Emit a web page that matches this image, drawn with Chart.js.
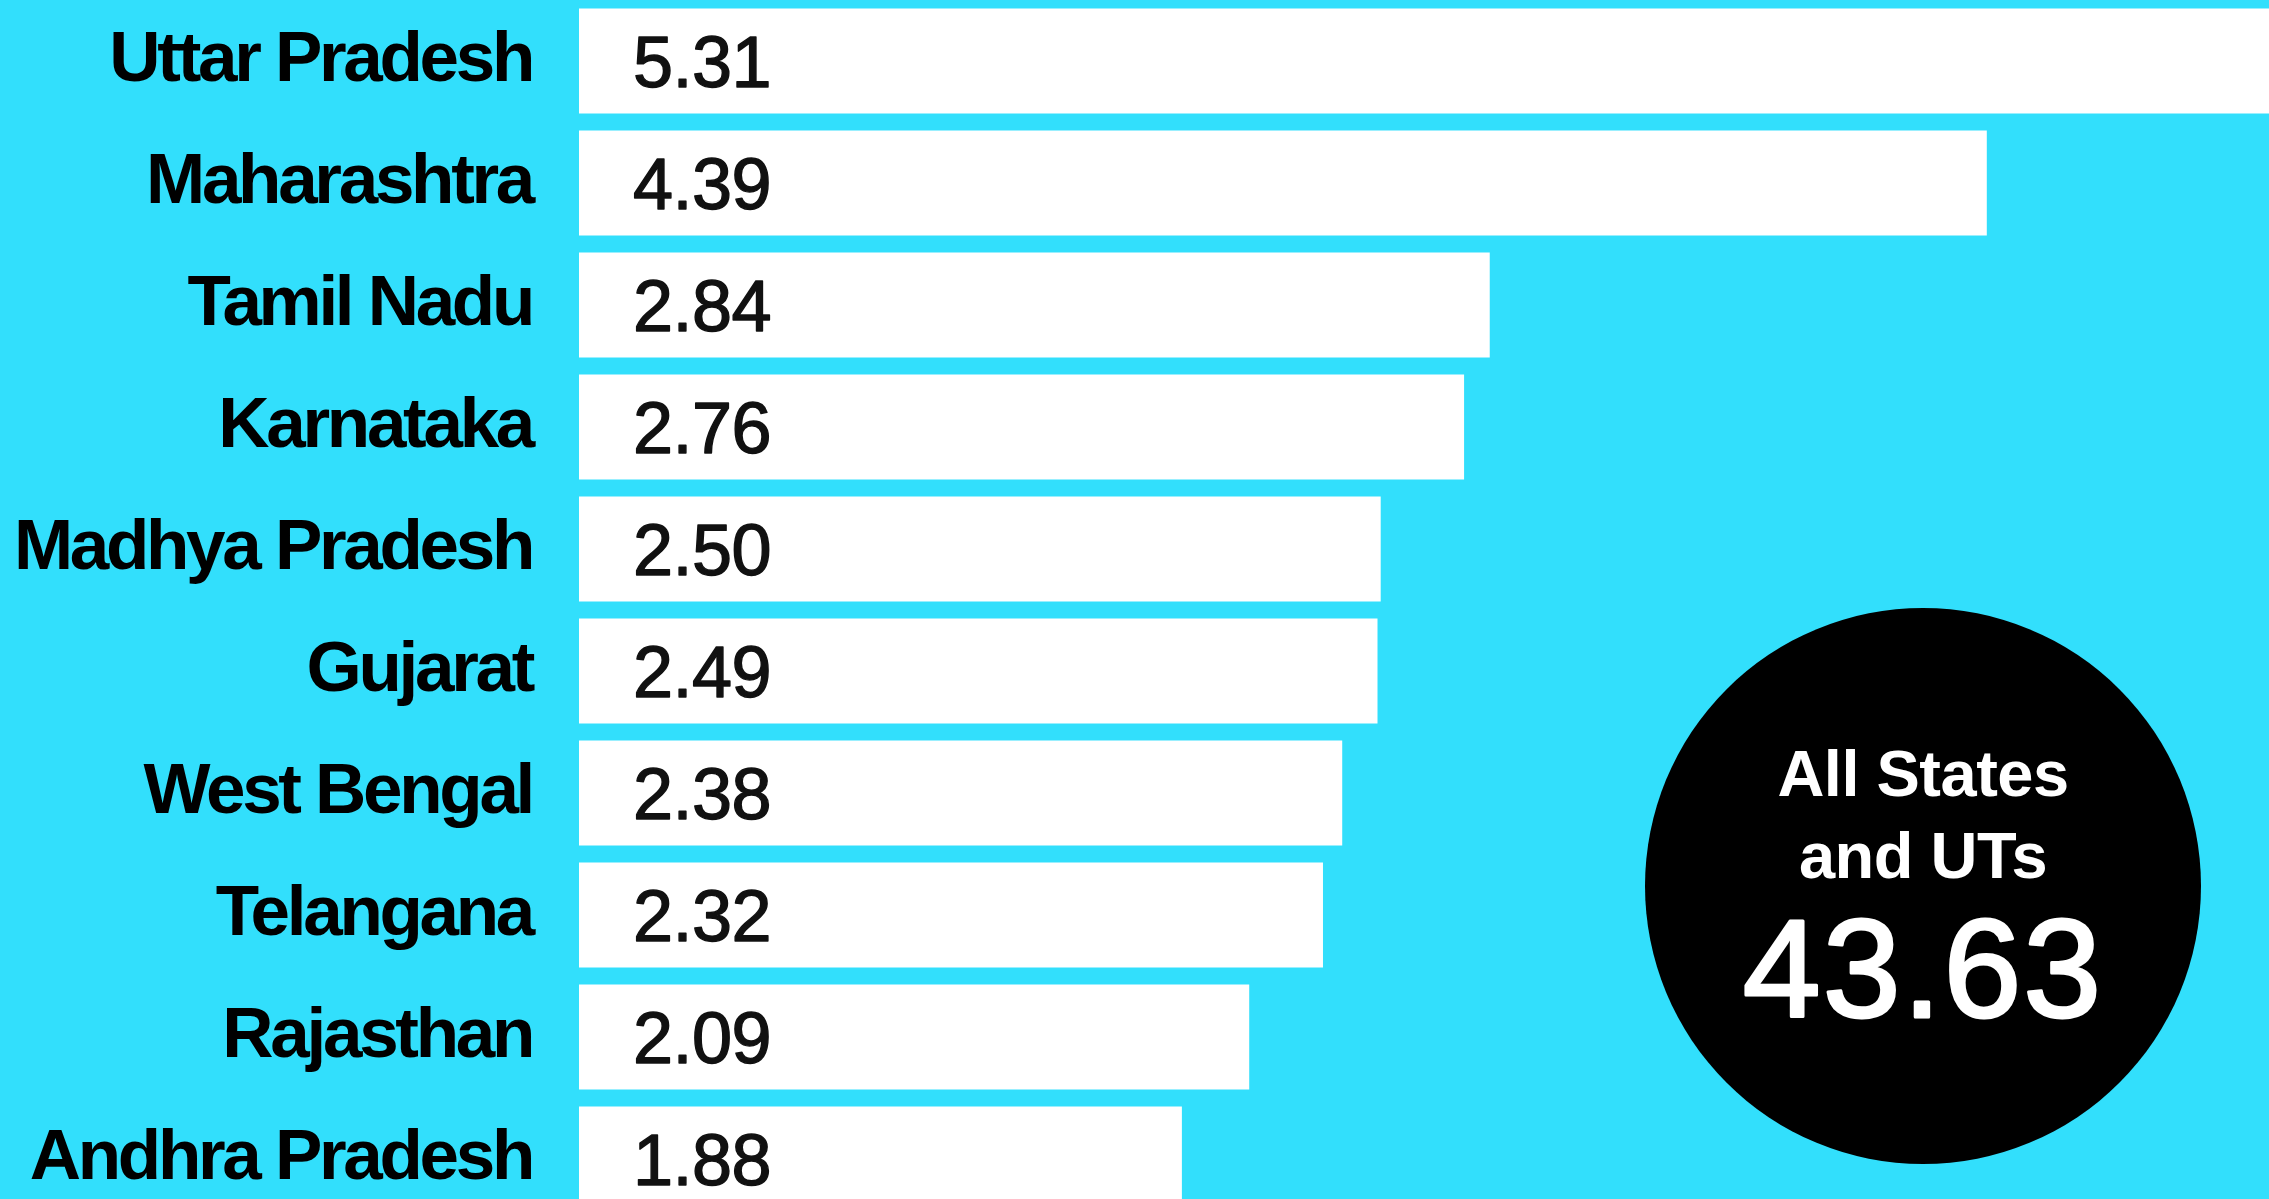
<!DOCTYPE html>
<html>
<head>
<meta charset="utf-8">
<script src="https://cdn.jsdelivr.net/npm/chart.js@4.4.1/dist/chart.umd.min.js"></script>
<style>
  html, body { margin: 0; padding: 0; background: #32dffc; overflow: hidden; }
  #wrap { width: 2269px; height: 1220px; position: relative; }
</style>
</head>
<body>
<div id="wrap"><canvas id="chart"></canvas></div>
<script>
// values
const states = [
  'Uttar Pradesh', 'Maharashtra', 'Tamil Nadu', 'Karnataka', 'Madhya Pradesh',
  'Gujarat', 'West Bengal', 'Telangana', 'Rajasthan', 'Andhra Pradesh'
];
const values = [5.31, 4.39, 2.84, 2.76, 2.50, 2.49, 2.38, 2.32, 2.09, 1.88];
const totalTitle = ['All States', 'and UTs'];
const totalValue = '43.63';

const LABEL_FONT = '"Liberation Sans", Arial, Helvetica, sans-serif';

// tight tracking like the original type
const trackingPlugin = {
  id: 'tracking',
  beforeDraw(chart) {
    chart.ctx.letterSpacing = '-3.3px';
  }
};

// numbers inside the bars (regular face, slightly thickened)
const valueLabels = {
  id: 'valueLabels',
  afterDatasetsDraw(chart) {
    const ctx = chart.ctx;
    const meta = chart.getDatasetMeta(0);
    ctx.save();
    ctx.letterSpacing = '-0.5px';
    ctx.fillStyle = '#111';
    ctx.strokeStyle = '#111';
    ctx.lineWidth = 1.4;
    ctx.lineJoin = 'round';
    ctx.font = '72px ' + LABEL_FONT;
    ctx.textAlign = 'left';
    ctx.textBaseline = 'alphabetic';
    meta.data.forEach((bar, i) => {
      const txt = values[i].toFixed(2);
      ctx.fillText(txt, bar.base + 54, bar.y + 26);
      ctx.strokeText(txt, bar.base + 54, bar.y + 26);
    });
    ctx.restore();
  }
};

// black total badge
const totalBadge = {
  id: 'totalBadge',
  afterDraw(chart, args, opts) {
    const ctx = chart.ctx;
    ctx.save();
    ctx.beginPath();
    ctx.arc(opts.cx, opts.cy, opts.r, 0, Math.PI * 2);
    ctx.fillStyle = '#000';
    ctx.fill();
    ctx.fillStyle = '#fff';
    ctx.strokeStyle = '#fff';
    ctx.lineJoin = 'round';
    ctx.textAlign = 'center';
    ctx.textBaseline = 'alphabetic';
    ctx.letterSpacing = '-0.5px';
    ctx.font = 'bold 65px ' + LABEL_FONT;
    ctx.fillText(totalTitle[0], opts.cx, opts.cy - 90);
    ctx.fillText(totalTitle[1], opts.cx, opts.cy - 8);
    ctx.letterSpacing = '2px';
    ctx.font = '140px ' + LABEL_FONT;
    ctx.lineWidth = 3;
    ctx.fillText(totalValue, opts.cx, opts.cy + 131);
    ctx.strokeText(totalValue, opts.cx, opts.cy + 131);
    ctx.restore();
  }
};

new Chart(document.getElementById('chart'), {
  type: 'bar',
  data: {
    labels: states,
    datasets: [{
      data: values,
      backgroundColor: '#ffffff',
      borderWidth: 0,
      barPercentage: 0.86,
      categoryPercentage: 1,
    }]
  },
  options: {
    indexAxis: 'y',
    responsive: true,
    maintainAspectRatio: false,
    animation: false,
    layout: { padding: 0 },
    plugins: {
      legend: { display: false },
      tooltip: { enabled: false },
      totalBadge: { cx: 1923, cy: 886, r: 278 },
    },
    scales: {
      x: {
        min: 0,
        max: 5.27,
        display: false,
      },
      y: {
        grid: { display: false, drawTicks: false },
        border: { display: false },
        afterFit: s => {
          s.width = 579;
          s.paddingTop = 0;
          s.paddingBottom = 0;
        },
        ticks: {
          autoSkip: false,
          padding: 47,
          color: '#000',
          font: { family: LABEL_FONT, size: 71, weight: 'bold' },
        }
      }
    }
  },
  plugins: [trackingPlugin, valueLabels, totalBadge]
});
</script>
</body>
</html>
